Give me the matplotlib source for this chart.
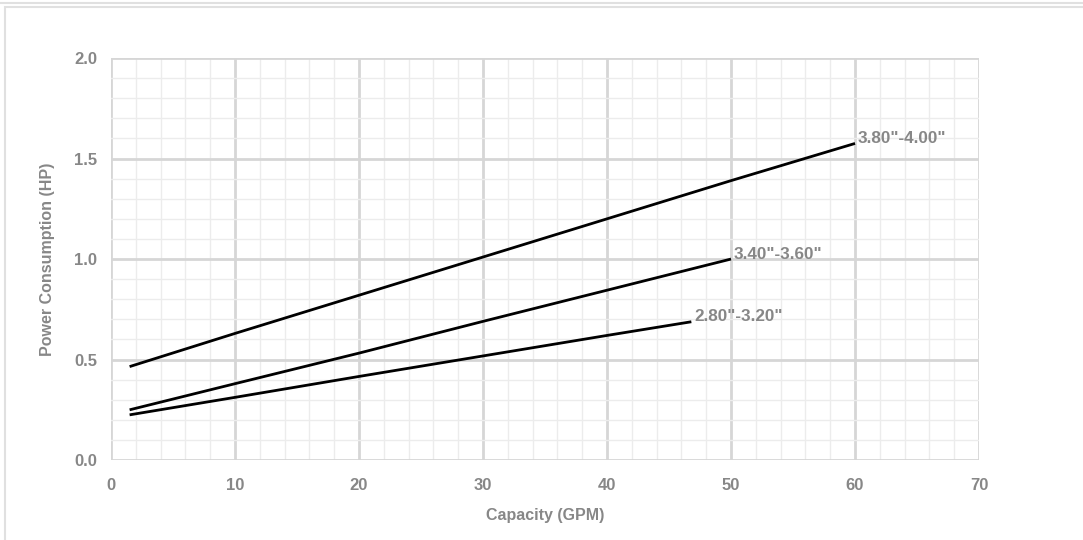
import matplotlib.pyplot as plt
from matplotlib.ticker import MultipleLocator
from matplotlib.lines import Line2D
from matplotlib.patches import Rectangle

plt.rcParams['font.family'] = ['Liberation Sans', 'DejaVu Sans']

# capacity (GPM) vs power consumption (HP) for each bore size
cap_38_40 = [1.5, 10, 20, 30, 40, 50, 60]
hp_38_40 = [0.465, 0.63, 0.82, 1.01, 1.20, 1.39, 1.575]

cap_34_36 = [1.5, 10, 20, 30, 40, 50]
hp_34_36 = [0.25, 0.38, 0.532, 0.69, 0.845, 1.0]

cap_28_32 = [1.5, 10, 20, 30, 40, 46.8]
hp_28_32 = [0.225, 0.312, 0.416, 0.518, 0.62, 0.688]

series = [
    (cap_38_40, hp_38_40, '3.80"-4.00"'),
    (cap_34_36, hp_34_36, '3.40"-3.60"'),
    (cap_28_32, hp_28_32, '2.80"-3.20"'),
]

grey = '#878787'

fig = plt.figure(figsize=(10.83, 5.4), dpi=100)
ax = fig.add_axes([0.1025, 0.148, 0.8015, 0.7446])

for x, y, name in series:
    ax.plot(x, y, color='black', lw=2, solid_capstyle='butt', zorder=3)
    ax.annotate(name, (x[-1], y[-1]), xytext=(2, 3.5), textcoords='offset points',
                color=grey, fontsize=12.3, fontweight='bold', va='center', ha='left')

ax.set_xlim(0, 70)
ax.set_ylim(0, 2.0)
ax.xaxis.set_major_locator(MultipleLocator(10))
ax.xaxis.set_minor_locator(MultipleLocator(2))
ax.yaxis.set_major_locator(MultipleLocator(0.5))
ax.yaxis.set_minor_locator(MultipleLocator(0.1))
ax.yaxis.set_major_formatter(lambda v, p: f'{v:.1f}')

ax.grid(which='minor', color='#ececec', lw=1)
ax.grid(which='major', color='#d6d6d6', lw=2)
ax.set_axisbelow(True)
for s in ax.spines.values():
    s.set_visible(False)
ax.tick_params(which='both', length=0)
ax.tick_params(axis='x', pad=13, labelsize=12, labelcolor=grey)
ax.tick_params(axis='y', pad=10, labelsize=12, labelcolor=grey)
for lab in ax.get_xticklabels() + ax.get_yticklabels():
    lab.set_fontweight('bold')

ax.set_xlabel('Capacity (GPM)', color=grey, fontsize=11.5, fontweight='bold', labelpad=11)
ax.set_ylabel('Power Consumption (HP)', color=grey, fontsize=11.5, fontweight='bold', labelpad=14)

# chart frame
fig.add_artist(Line2D([0, 1], [1 - 2.5 / 540] * 2, color='#e0e0e0', lw=1.5))
fig.add_artist(Rectangle((5 / 1083, -0.05), 1.1, 1 - 6.5 / 540 + 0.05,
                         fill=False, edgecolor='#e0e0e0', lw=1.5))

fig.savefig('out.png', dpi=100)
